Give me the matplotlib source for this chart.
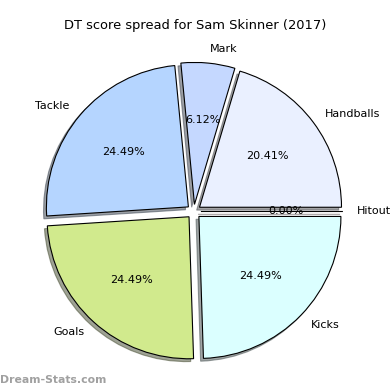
import matplotlib
matplotlib.use("Agg")
import matplotlib.pyplot as plt

labels = ["Handballs", "Mark", "Tackle", "Goals", "Kicks", "Hitout"]
values = [10, 3, 12, 12, 12, 0]
colors = ["#eaf0ff", "#c5d8ff", "#b5d5ff", "#d1ea8d", "#dbffff", "#ffe0e0"]
explode = [0.05] * len(values)
title = "DT score spread for Sam Skinner (2017)"

fig = plt.figure(figsize=(3.9, 3.9), dpi=100)
ax = fig.add_axes([0, 0, 1, 1])
off = -0.02 * 72 / 100
wedges, texts, autotexts = ax.pie(
    values, labels=labels, colors=colors, explode=explode,
    autopct="%1.2f%%", startangle=0,
    shadow={"ox": off, "oy": off},
    wedgeprops=dict(edgecolor="black", linewidth=0.8),
    textprops=dict(fontsize=8),
)
for t in autotexts:
    t.set_fontsize(8)
r = 142.0
cx, cy = 193.8, 211.5
ax.set_xlim(-cx / r, (390 - cx) / r)
ax.set_ylim(-(390 - cy) / r, cy / r)
ax.set_aspect("auto")
ax.axis("off")
fig.text(0.5, 1 - 25 / 390, title, ha="center", va="center", fontsize=9.4)
fig.text(0.0, 1 - 380 / 390, "Dream-Stats.com", ha="left", va="center",
         fontsize=7.8, fontweight="bold", color="#a0a0a0")
fig.savefig("out.png", dpi=100)
